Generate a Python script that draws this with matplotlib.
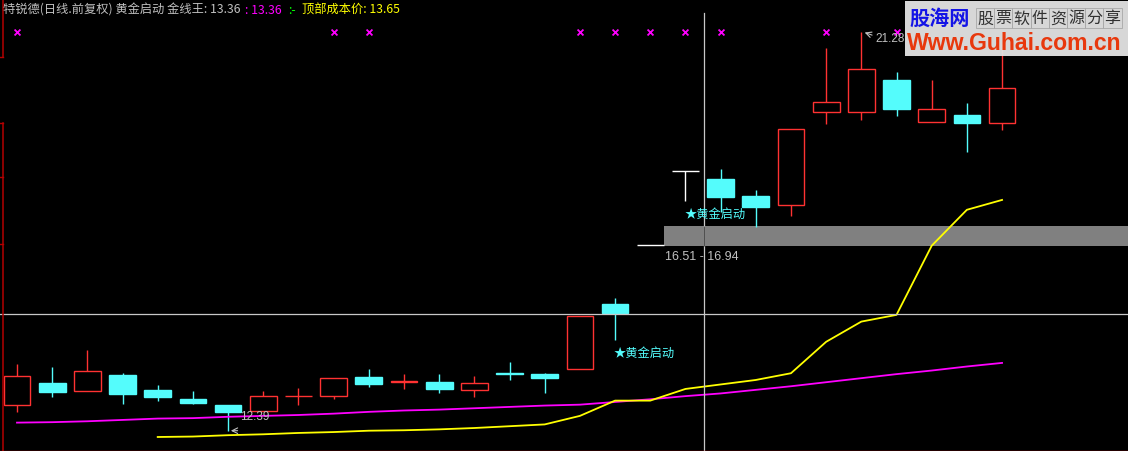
import numpy as np
import matplotlib.pyplot as plt
from matplotlib.lines import Line2D
from matplotlib.patches import Rectangle

plt.rcParams['font.family'] = ['Noto Sans CJK SC', 'DejaVu Sans']

# daily candles (前复权)
opens = [12.96, 13.46, 13.27, 13.63, 13.30, 13.10, 12.97, 12.83, 13.16, 13.17,
         13.59, 13.48, 13.48, 13.29, 13.67, 13.66, 13.76, 15.21, 16.52, 18.17,
         17.99, 17.61, 17.41, 19.49, 19.49, 20.21, 19.27, 19.43, 19.24]
highs = [13.88, 13.81, 14.19, 13.68, 13.41, 13.28, 12.97, 13.28, 13.35, 13.56,
         13.77, 13.66, 13.66, 13.61, 13.92, 13.67, 14.94, 15.35, 16.52, 18.17,
         18.21, 17.75, 19.12, 20.92, 21.28, 20.39, 20.19, 19.68, 21.00]
lows = [12.81, 13.15, 13.27, 12.99, 13.06, 12.98, 12.39, 12.83, 12.97, 13.09,
        13.37, 13.33, 13.24, 13.15, 13.51, 13.22, 13.76, 14.42, 16.52, 17.51,
        17.25, 16.93, 17.17, 19.23, 19.32, 19.40, 19.27, 18.60, 19.09]
closes = [13.61, 13.26, 13.72, 13.20, 13.13, 13.00, 12.80, 13.16, 13.17, 13.56,
          13.42, 13.49, 13.31, 13.45, 13.66, 13.57, 14.94, 15.02, 16.52, 18.17,
          17.60, 17.37, 19.12, 19.72, 20.45, 19.55, 19.56, 19.24, 20.03]

# indicator lines
line_magenta = [12.57, 12.58, 12.60, 12.63, 12.66, 12.67, 12.70, 12.72, 12.74, 12.77,
                12.81, 12.84, 12.86, 12.89, 12.92, 12.95, 12.97, 13.03, 13.09, 13.16,
                13.22, 13.30, 13.38, 13.47, 13.56, 13.65, 13.73, 13.82, 13.90]
line_yellow = [np.nan, np.nan, np.nan, np.nan, 12.25, 12.26, 12.29, 12.31, 12.34, 12.36,
               12.39, 12.40, 12.42, 12.45, 12.49, 12.53, 12.72, 13.06, 13.06, 13.32,
               13.42, 13.52, 13.67, 14.37, 14.82, 14.97, 16.51, 17.31, 17.53]

signal_idx = [0, 9, 10, 16, 17, 18, 19, 20, 23, 25]   # magenta x marks on top
start_idx = [17, 19]                                    # ★黄金启动
band_lo, band_hi, band_start = 16.51, 16.94, 18
low_idx, high_idx = 6, 24
cross_x, cross_y = 19.53, 14.99

UP, DOWN, FLAT = '#FF3232', '#54FCFC', '#FFFFFF'
GRAY_TXT = '#C0C0C0'
W = 0.76
W_PX, H_PX = 1128, 452


def px(x, y):
    return x / W_PX, 1 - y / H_PX


fig = plt.figure(figsize=(11.28, 4.52), dpi=100, facecolor='black')
ax = fig.add_axes([0, 0, 1, 1])
ax.set_facecolor('black')
ax.axis('off')
ax.set_xlim(-0.483, 31.58)
ax.set_ylim(11.938, 22.005)

x = np.arange(len(opens))
o, h, l, c = (np.array(a) for a in (opens, highs, lows, closes))
up, down, flat = c > o, c < o, c == o
colors = np.where(up, UP, np.where(down, DOWN, FLAT))

# shadows
ax.vlines(x, np.maximum(o, c), h, colors=colors, lw=1.0, zorder=2)
ax.vlines(x, l, np.minimum(o, c), colors=colors, lw=1.0, zorder=2)
# bodies
ax.bar(x[up], (c - o)[up], W, bottom=o[up], facecolor='black', edgecolor=UP, lw=1.0, zorder=3)
ax.bar(x[down], (o - c)[down], W, bottom=c[down], facecolor=DOWN, edgecolor=DOWN, lw=1.0, zorder=3)
ax.hlines(c[flat], x[flat] - W / 2, x[flat] + W / 2, colors=FLAT, lw=1.0, zorder=3)

# gray price band
ax.fill_between([band_start + W / 2, 40], band_lo, band_hi, color='#808080', lw=0, zorder=1)
ax.text(band_start + W / 2 + 0.05, band_lo - 0.24, f'{band_lo:.2f} - {band_hi:.2f}',
        color=GRAY_TXT, fontsize=9, family='Liberation Sans', va='center', zorder=6)

# indicator lines
ax.plot(x, line_magenta, color='#FF00FF', lw=1.3, zorder=4)
ax.plot(x, line_yellow, color='#FFFF00', lw=1.3, zorder=4)

# signal marks
ax.scatter(signal_idx, [21.26] * len(signal_idx), marker='x', s=18, c='#FF00FF', lw=1.3, zorder=5)

for i in start_idx:
    ax.text(i - 0.03, l[i] - 0.28, '★黄金启动', color=DOWN, fontsize=8.8, va='center', zorder=6)

# low / high labels
ax.annotate('', xy=(low_idx, l[low_idx]), xytext=(low_idx + 0.35, l[low_idx]),
            arrowprops=dict(arrowstyle='->', color=GRAY_TXT, lw=0.8), zorder=6)
ax.text(low_idx + 0.34, l[low_idx] + 0.33, f'{l[low_idx]:.2f}', color=GRAY_TXT,
        fontsize=8.5, family='Liberation Sans', va='center', zorder=6)
ax.annotate('', xy=(high_idx + 0.02, h[high_idx]), xytext=(high_idx + 0.38, h[high_idx] - 0.1),
            arrowprops=dict(arrowstyle='->', color=GRAY_TXT, lw=0.8), zorder=6)
ax.text(high_idx + 0.4, h[high_idx] - 0.15, f'{h[high_idx]:.2f}', color=GRAY_TXT,
        fontsize=8.5, family='Liberation Sans', va='center', zorder=6)

# crosshair
ax.axhline(cross_y, color='#C8C8C8', lw=0.9, zorder=5)
ax.axvline(cross_x, ymin=0, ymax=1 - 14 / H_PX, color='#C8C8C8', lw=0.9, zorder=5)
ax.vlines(cross_x, band_lo, band_hi, color='#505050', lw=0.9, zorder=6)

# left / bottom frame
AX_RED = '#B40000'
fig.add_artist(Line2D(*zip(px(2.5, 0), px(2.5, 58)), color=AX_RED, lw=1.1))
fig.add_artist(Line2D(*zip(px(2.5, 124), px(2.5, 452)), color=AX_RED, lw=1.1))
for ty in (58, 124, 178, 245):
    fig.add_artist(Line2D(*zip(px(0, ty), px(2.5, ty)), color=AX_RED, lw=1))
fig.add_artist(Line2D(*zip(px(0, 451.5), px(1128, 451.5)), color=AX_RED, lw=1))

# title line
ty = 1 - 10 / H_PX
fig.text(px(3, 0)[0], ty, '特锐德(日线.前复权) 黄金启动 金线王: 13.36', color=GRAY_TXT, fontsize=8.8, va='center')
fig.text(px(245, 0)[0], ty, ': 13.36', color='#FF00FF', fontsize=8.8, va='center')
fig.text(px(288, 0)[0], ty, ':-', color='#00FF00', fontsize=8.8, va='center')
fig.text(px(302, 0)[0], ty, '顶部成本价: 13.65', color='#FFFF00', fontsize=8.8, va='center')

# watermark
wx, wy = px(905, 57)
fig.add_artist(Rectangle((wx, wy), 223 / W_PX, 55 / H_PX, transform=fig.transFigure,
                         facecolor='#E4E4E4', edgecolor='none', alpha=0.95, zorder=10))
fig.text(*px(909, 18), '股海网', color='#1414E6', fontsize=14.5, weight='bold', va='center', zorder=11)
cells = '股票软件资源分享'
for k, ch in enumerate(cells):
    cx = 976 + k * 18.2
    fig.add_artist(Rectangle(px(cx, 29), 18.2 / W_PX, 20 / H_PX, transform=fig.transFigure,
                             facecolor='none', edgecolor='#A8A8A8', lw=0.6, zorder=11))
    fig.text(*px(cx + 9.1, 19), ch, color='#303030', fontsize=11.5, ha='center', va='center', zorder=12)
fig.text(*px(907, 43), 'Www.Guhai.com.cn', color='#E8380D', fontsize=16.6, weight='bold',
         family='Liberation Sans', va='center', zorder=11)

fig.savefig('out.png', dpi=100, facecolor='black')
